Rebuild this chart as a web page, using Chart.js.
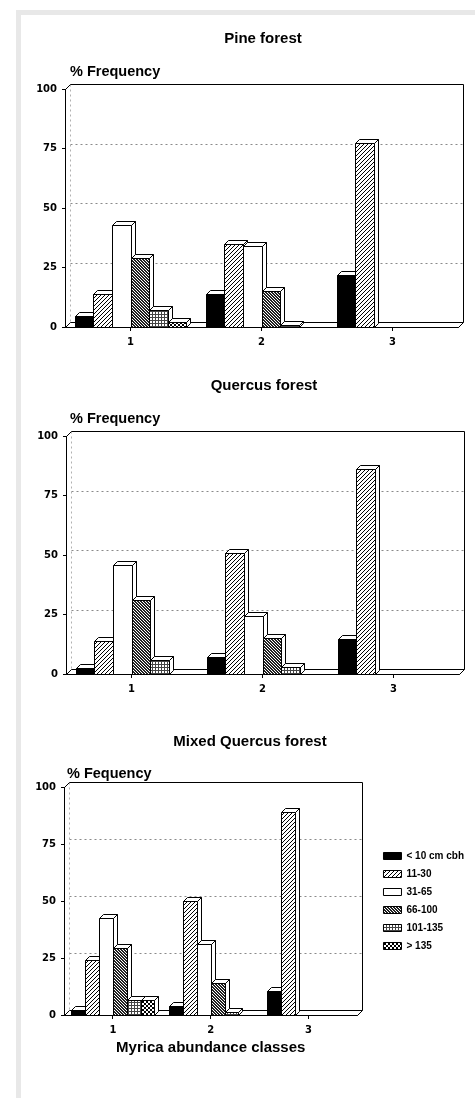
<!DOCTYPE html>
<html>
<head>
<meta charset="utf-8">
<script src="https://cdn.jsdelivr.net/npm/chart.js@4.4.0/dist/chart.umd.min.js"></script>
<style>
    html, body { margin: 0; padding: 0; background: #fff; }
    body { width: 475px; height: 1098px; position: relative; overflow: hidden; }
    .frame { position: absolute; left: 16px; top: 10px; right: 0; bottom: 0;
             border-top: 5px solid #e8e8e8; border-left: 5px solid #e8e8e8; }
    .panel { position: absolute; left: 21px; width: 454px; }
</style>
</head>
<body>
<div class="frame"></div>
<div class="panel" style="top:15px;height:335px"><canvas id="pineChart"></canvas></div>
<div class="panel" style="top:350px;height:350px"><canvas id="quercusChart"></canvas></div>
<div class="panel" style="top:700px;height:398px"><canvas id="mixedChart"></canvas></div>
<script>
// Myrica abundance classes on the x axis, tree size classes as series
const myricaClasses = ['1', '2', '3'];
const sizeClasses = ['< 10 cm cbh', '11-30', '31-65', '66-100', '101-135', '> 135'];
const yTicks = [0, 25, 50, 75, 100];
const gridValues = [25, 50, 75];

// % frequency, one row per size class, values for Myrica class 1, 2, 3
const pineForest = [
    [4.5, 14, 22],
    [14, 35, 77.5],
    [43, 34, 0],
    [29, 15, 0],
    [7, 1, 0],
    [2, 0, 0]
];
const quercusForest = [
    [2.5, 7, 14.5],
    [14, 51, 86],
    [46, 24.5, 0],
    [31, 15, 0],
    [6, 3, 0],
    [0, 0, 0]
];
const mixedQuercusForest = [
    [2, 4, 10.5],
    [24, 50, 89],
    [42.5, 31, 0],
    [29.5, 14, 0],
    [6.5, 1.5, 0],
    [6.5, 0, 0]
];

const D_WALL = 5;
const D_BAR = 4;

function makePattern(size, pixels, color) {
    const c = document.createElement('canvas');
    c.width = c.height = size;
    const g = c.getContext('2d');
    g.fillStyle = '#fff';
    g.fillRect(0, 0, size, size);
    g.fillStyle = color || '#000';
    pixels.forEach(p => g.fillRect(p[0], p[1], 1, 1));
    return g.createPattern(c, 'repeat');
}

const fills = [
    '#000',
    makePattern(4, [[0, 3], [1, 2], [2, 1], [3, 0]]),
    '#fff',
    makePattern(3, [[0, 0], [1, 1], [2, 2], [1, 0], [2, 1], [0, 2]], '#222'),
    makePattern(3, [[0, 2], [1, 2], [2, 2], [2, 0], [2, 1]], '#444'),
    makePattern(4, [[0, 0], [1, 1], [2, 2], [3, 3], [0, 3], [1, 2], [2, 1], [3, 0]])
];

const tickFont = { family: 'DejaVu Sans', weight: 'bold', size: 10 };
const titleFont = { family: 'Liberation Sans', weight: 'bold', size: 15 };

function poly(ctx, pts) {
    ctx.beginPath();
    ctx.moveTo(pts[0][0], pts[0][1]);
    for (let k = 1; k < pts.length; k++) ctx.lineTo(pts[k][0], pts[k][1]);
    ctx.closePath();
    ctx.fill();
    ctx.stroke();
}

function seg(ctx, x0, y0, x1, y1) {
    ctx.beginPath();
    ctx.moveTo(x0, y0);
    ctx.lineTo(x1, y1);
    ctx.stroke();
}

// back wall, floor and 3d bars
const box3d = {
    id: 'box3d',
    beforeDatasetsDraw(chart) {
        const { ctx, chartArea: a, scales: { y } } = chart;
        const L = Math.round(a.left) + 0.5, R = Math.round(a.right) + 0.5;
        const T = Math.round(a.top) + 0.5, B = Math.round(a.bottom) + 0.5;
        const d = D_WALL;
        ctx.save();
        ctx.lineWidth = 1;
        ctx.strokeStyle = '#8a8a8a';
        ctx.setLineDash([2, 3]);
        gridValues.forEach(v => {
            const py = Math.round(y.getPixelForValue(v)) - d + 0.5;
            seg(ctx, L + d, py, R + d, py);
        });
        ctx.strokeStyle = '#b0b0b0';
        seg(ctx, L + d, T - d, L + d, B - d);
        ctx.setLineDash([]);
        ctx.strokeStyle = '#000';
        seg(ctx, L, T, L + d, T - d);
        seg(ctx, L + d, T - d, R + d, T - d);
        seg(ctx, R + d, T - d, R + d, B - d);
        ctx.fillStyle = '#fff';
        poly(ctx, [[L, B], [R, B], [R + d, B - d], [L + d, B - d]]);
        ctx.restore();
    },
    beforeDatasetDraw() {
        return false;
    },
    afterDatasetsDraw(chart) {
        const { ctx } = chart;
        const d = D_BAR;
        ctx.save();
        ctx.lineWidth = 1;
        ctx.strokeStyle = '#000';
        chart.data.labels.forEach((lab, j) => {
            chart.data.datasets.forEach((ds, i) => {
                if (!ds.data[j]) return;
                const bar = chart.getDatasetMeta(i).data[j];
                const x0 = Math.round(bar.x - bar.width / 2) + 0.5;
                const x1 = Math.round(bar.x + bar.width / 2) + 0.5;
                const yt = Math.round(bar.y) + 0.5;
                const yb = Math.round(bar.base) + 0.5;
                ctx.fillStyle = '#fff';
                poly(ctx, [[x1, yt], [x1 + d, yt - d], [x1 + d, yb - d], [x1, yb]]);
                poly(ctx, [[x0, yt], [x0 + d, yt - d], [x1 + d, yt - d], [x1, yt]]);
                ctx.fillStyle = ds.backgroundColor;
                poly(ctx, [[x0, yt], [x1, yt], [x1, yb], [x0, yb]]);
            });
        });
        ctx.restore();
    }
};

// panel title and the "% Frequency" label above the axis
const panelText = {
    id: 'panelText',
    afterDraw(chart, args, opts) {
        const { ctx } = chart;
        ctx.save();
        ctx.fillStyle = '#000';
        ctx.textBaseline = 'middle';
        ctx.font = 'bold 15px "Liberation Sans"';
        ctx.textAlign = 'center';
        ctx.fillText(opts.title, opts.titleX, opts.titleY);
        ctx.font = 'bold 14.5px "Liberation Sans"';
        ctx.textAlign = 'left';
        ctx.fillText(opts.label, opts.labelX, opts.labelY);
        ctx.restore();
    }
};

function forestChart(id, rows, geo) {
    const datasets = sizeClasses.map((label, i) => ({
        label: label,
        data: rows[i],
        backgroundColor: fills[i],
        borderColor: '#000',
        borderWidth: 1
    }));

    const scales = {
        x: {
            grid: { display: true, drawOnChartArea: false, offset: false, tickLength: 4, color: '#000' },
            border: { display: true, color: '#000', width: 1 },
            ticks: { color: '#000', font: tickFont, padding: 5, maxRotation: 0 },
            title: {
                display: !!geo.xTitle,
                text: geo.xTitle || '',
                color: '#000',
                font: titleFont,
                padding: { top: 0, bottom: geo.xTitlePad || 0 }
            },
            afterFit(axis) { axis.height = geo.xHeight; }
        },
        y: {
            min: 0,
            max: 100,
            afterBuildTicks(axis) { axis.ticks = yTicks.map(v => ({ value: v })); },
            grid: { drawOnChartArea: false, tickLength: 3, color: '#000' },
            border: { display: true, color: '#000', width: 1 },
            ticks: { color: '#000', font: tickFont, padding: 5 },
            afterFit(axis) { axis.width = geo.left; }
        }
    };
    if (geo.legend) {
        // empty right axis, only keeps the legend away from the back wall
        scales.gap = {
            type: 'linear',
            position: 'right',
            grid: { display: false },
            border: { display: false },
            ticks: { display: false },
            afterFit(axis) { axis.width = geo.gap; }
        };
    }

    return new Chart(document.getElementById(id), {
        type: 'bar',
        data: { labels: myricaClasses, datasets: datasets },
        plugins: [box3d, panelText],
        options: {
            responsive: true,
            maintainAspectRatio: false,
            animation: false,
            events: [],
            layout: { padding: { top: geo.top, right: geo.right, left: 0, bottom: 0 } },
            datasets: { bar: { categoryPercentage: 0.85, barPercentage: 1 } },
            scales: scales,
            plugins: {
                tooltip: { enabled: false },
                legend: {
                    display: !!geo.legend,
                    position: 'right',
                    align: 'center',
                    fullSize: false,
                    maxWidth: 140,
                    labels: {
                        boxWidth: 18,
                        boxHeight: 7,
                        padding: 8,
                        color: '#000',
                        font: { family: 'Liberation Sans', weight: 'bold', size: 10 }
                    }
                },
                panelText: {
                    title: geo.title, titleX: geo.titleX, titleY: geo.titleY,
                    label: geo.label, labelX: geo.labelX, labelY: geo.labelY
                }
            }
        }
    });
}

forestChart('pineChart', pineForest, {
    top: 74, right: 17, left: 44, xHeight: 23,
    title: 'Pine forest', titleX: 242, titleY: 24,
    label: '% Frequency', labelX: 49, labelY: 57
});

forestChart('quercusChart', quercusForest, {
    top: 86, right: 16, left: 45, xHeight: 26,
    title: 'Quercus forest', titleX: 243, titleY: 36,
    label: '% Frequency', labelX: 49, labelY: 69
});

forestChart('mixedChart', mixedQuercusForest, {
    top: 87, right: 1, left: 43, xHeight: 83, legend: true, gap: 18,
    xTitle: 'Myrica abundance classes', xTitlePad: 41,
    title: 'Mixed Quercus forest', titleX: 229, titleY: 42,
    label: '% Fequency', labelX: 46, labelY: 74
});
</script>
</body>
</html>
